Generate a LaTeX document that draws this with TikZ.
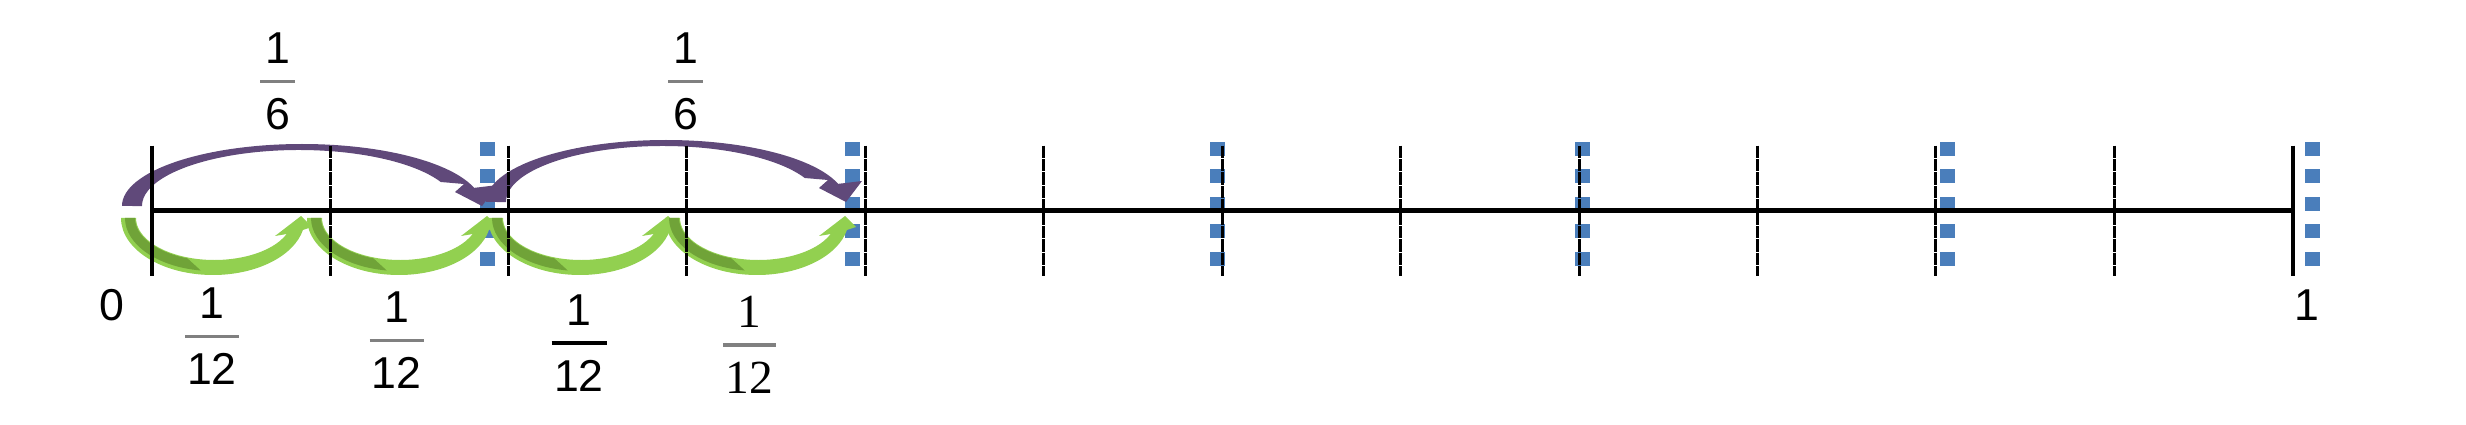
\documentclass[tikz,border=0pt]{standalone}
\usepackage{fontspec}
\setmainfont{Liberation Sans}
\newfontfamily\timesfont{Liberation Serif}
\definecolor{jumppurple}{RGB}{96,73,122}
\definecolor{jumpgreen}{RGB}{146,208,80}
\definecolor{jumpshade}{RGB}{112,163,56}
\definecolor{markblue}{RGB}{74,126,187}
\definecolor{bargray}{RGB}{128,128,128}
% fraction: [style]{name}{x}{y of bar}{bar width}{num}{den}
\newcommand{\fracmark}[7][]{%
  \draw[fracbar,#1] ({#3-#5/2},#4) -- ({#3+#5/2},#4);
  \node[#1] (#2num) at (#3,#4+33.5) {#6};
  \node[#1] (#2den) at (#3,#4-32.5) {#7};}
\begin{document}
\begin{tikzpicture}[x=0.01cm, y=0.01cm,
  every node/.style={font=\fontsize{12.7}{14}\selectfont, inner sep=0pt},
  axisline/.style={line width=1.3pt},
  tickline/.style={line width=0.85pt, dash pattern=on 3.5pt off 0.3pt},
  endtick/.style={line width=1.05pt},
  fracbar/.style={line width=0.95pt, bargray}]
\useasboundingbox (0,0) rectangle (2466,424);
% twelfths on the line
\foreach \k in {0,...,12} \coordinate (t\k) at ({151.7+\k*178.42},213.3);
% blue dotted markers
\foreach \j in {0,...,5}
  \foreach \s in {0,...,4}
    \fill[markblue] ({487.7+\j*365-7.5},{275-\s*27.5-7}) rectangle ++(15,14);
% purple jumps of one sixth
\foreach \ox/\oy in {122/218, 486/222}{
  \begin{scope}[shift={(\ox,\oy)}]
    \fill[jumppurple] (0,0) arc[start angle=180, end angle=17, x radius=180, y radius=62]
      -- (376,21) -- (360,0) -- (333,14) -- (342,22) -- (318.8,24)
      arc[start angle=25.38, end angle=180, x radius=157, y radius=56] -- cycle;
  \end{scope}}
% green jumps of one twelfth
\foreach \ox in {121, 307, 488, 665}{
  \begin{scope}[shift={(\ox,206)}]
    \fill[jumpgreen] (0,0) arc[start angle=180, end angle=347.85, x radius=92, y radius=57]
      -- (191,-9) -- (180,2) -- (154,-18) -- (165.7,-16)
      arc[start angle=337.6, end angle=180, x radius=78.3, y radius=42] -- cycle;
    \fill[jumpshade] (4,0) arc[start angle=180, end angle=262, x radius=88, y radius=53]
      -- (66.5,-40.4) arc[start angle=250, end angle=180, x radius=79.8, y radius=43] -- cycle;
  \end{scope}}
% number line
\draw[axisline] (t0) -- (t12);
\foreach \k in {1,...,11} \draw[tickline] (t\k) ++(0,65) -- ++(0,-130);
\draw[endtick] (t0) ++(0,65) -- ++(0,-130);
\draw[endtick] (t12) ++(0,65) -- ++(0,-130);
\node (zero) at (111.7,119) {0};
\node (one) at (2307,119) {1};
% fractions
\fracmark{sixA}{277.5}{342.3}{35}{1}{6}
\fracmark{sixB}{685.5}{342.3}{35}{1}{6}
\fracmark{twelveA}{212}{87.3}{54}{1}{12}
\fracmark{twelveB}{396.5}{83.3}{54}{1}{12}
\fracmark[black, line width=1.15pt]{twelveC}{579}{80.7}{55}{1}{12}
\fracmark[font=\timesfont\fontsize{13.5}{15}\selectfont]{twelveD}{749.5}{79}{53}{1}{12}
\end{tikzpicture}
\end{document}
